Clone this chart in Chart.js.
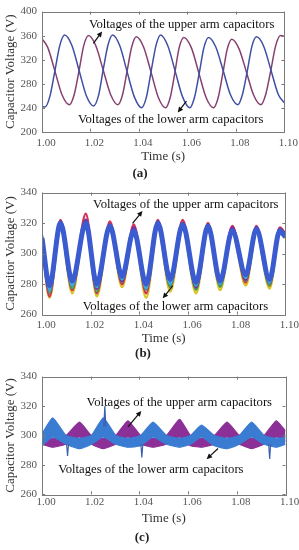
<!DOCTYPE html>
<html>
<head>
<meta charset="utf-8">
<script src="https://cdn.jsdelivr.net/npm/chart.js@4.4.0/dist/chart.umd.min.js"></script>
<style>
  body { margin: 0; background: #fff; }
  #wrap { position: relative; width: 299px; height: 550px; overflow: hidden; }
  canvas { position: absolute; left: 0; }
  .cap { position: absolute; font: bold 13px "Liberation Serif", serif; color: #222; transform: translate(-50%, -50%); }
</style>
</head>
<body>
<div id="wrap">
  <canvas id="chartA" width="299" height="180" style="top:0px"></canvas>
  <canvas id="chartB" width="299" height="185" style="top:180px"></canvas>
  <canvas id="chartC" width="299" height="185" style="top:365px"></canvas>
  <div class="cap" style="left:140px;top:173px">(a)</div>
  <div class="cap" style="left:143px;top:353px">(b)</div>
  <div class="cap" style="left:142px;top:537px">(c)</div>
</div>
<script>
// tick labels
const xTickVals = [1.00, 1.02, 1.04, 1.06, 1.08, 1.10]
const aTickVals = [200, 240, 280, 320, 360, 400]
const bTickVals = [260, 280, 300, 320, 340]

// (a) two arm capacitor voltages
const aBlueTime = [1.0000, 1.0012, 1.0032, 1.0053, 1.0073, 1.0093, 1.0123, 1.0153, 1.0183, 1.0213, 1.0233, 1.0252, 1.0272, 1.0291,
    1.0321, 1.0351, 1.0381, 1.0411, 1.0431, 1.0450, 1.0470, 1.0489, 1.0519, 1.0550, 1.0580, 1.0610, 1.0629, 1.0649, 1.0668, 1.0687,
    1.0717, 1.0748, 1.0778, 1.0808, 1.0827, 1.0847, 1.0866, 1.0885, 1.0915, 1.0945, 1.0975, 1.1000]
const aBlueVolt = [242, 241, 258, 301, 343, 361, 344, 302, 260, 243, 260, 302, 344, 361,
    343, 300, 258, 240, 258, 300, 343, 361, 343, 300, 258, 240, 257, 298, 340, 357,
    341, 301, 261, 245, 262, 301, 342, 358, 342, 302, 262, 248]
const aPurpleTime = [1.0000, 1.0024, 1.0054, 1.0083, 1.0113, 1.0133, 1.0153, 1.0172, 1.0192, 1.0222, 1.0253, 1.0283, 1.0313, 1.0332,
    1.0351, 1.0370, 1.0389, 1.0419, 1.0450, 1.0480, 1.0510, 1.0529, 1.0548, 1.0566, 1.0585, 1.0616, 1.0647, 1.0677, 1.0708, 1.0727,
    1.0746, 1.0764, 1.0783, 1.0813, 1.0843, 1.0873, 1.0903, 1.0923, 1.0944, 1.0964, 1.0984, 1.1000]
const aPurpleVolt = [355, 340, 300, 261, 245, 262, 302, 343, 360, 343, 302, 262, 245, 261,
    301, 341, 358, 341, 299, 257, 240, 257, 298, 340, 357, 340, 298, 257, 240, 257,
    297, 337, 354, 338, 300, 261, 245, 262, 302, 343, 360, 359]

// (b) many capacitors, one band
const bTime = [1.0000, 1.0031, 1.0076, 1.0124, 1.0180, 1.0225, 1.0279, 1.0329, 1.0377, 1.0428, 1.0476,
    1.0527, 1.0578, 1.0633, 1.0682, 1.0732, 1.0782, 1.0837, 1.0881, 1.0935, 1.0977, 1.1000]
const bBlue = [310, 279, 320, 282, 320, 280, 318, 285, 315, 280, 320, 283, 319, 281, 318, 282, 315, 286, 316, 283, 315, 311]
const bPurple = [311, 276, 321, 279, 322, 277, 319, 282, 317, 277, 321, 280, 320, 278, 319, 280, 317, 283, 317, 281, 316, 312]
const bRed = [309, 272, 322, 276, 326, 274, 321, 280, 319, 274, 322, 278, 322, 277, 320, 279, 318, 281, 318, 279, 317, 313]
const bYellow = [308, 271, 318, 274, 321, 272, 318, 278, 315, 271, 318, 275, 317, 274, 316, 276, 314, 279, 314, 277, 314, 310]
const bCyan = [312, 276, 317, 279, 318, 278, 316, 283, 313, 277, 318, 280, 317, 279, 316, 280, 314, 284, 314, 281, 313, 311]
const bGreen = [310, 274, 319, 277, 320, 275, 317, 281, 316, 276, 319, 278, 318, 276, 317, 278, 315, 282, 315, 279, 314, 311]

// (c) upper / lower envelopes of each group
const cTime = [1.0000, 1.0044, 1.0099, 1.0154, 1.0203, 1.0252, 1.0303, 1.0353, 1.0405, 1.0456, 1.0511,
    1.0565, 1.0610, 1.0655, 1.0708, 1.0760, 1.0810, 1.0861, 1.0912, 1.0962, 1.1000]
const cBlueHi = [301, 312, 300, 298, 300, 312, 300, 298, 300, 309, 300, 298, 300, 307, 300, 298, 300, 309, 300, 298, 299]
const cBlueLo = [293, 299, 294, 291, 294, 299, 294, 292, 293, 299, 294, 292, 294, 299, 293, 291, 294, 299, 294, 292, 294]
const cPurpleHi = [299, 298, 300, 309, 300, 298, 300, 310, 300, 298, 300, 311, 300, 298, 300, 309, 300, 298, 300, 310, 303]
const cPurpleLo = [294, 292, 294, 299, 294, 291, 294, 299, 294, 292, 294, 299, 293, 292, 294, 299, 294, 291, 294, 299, 296]
const cSpikeTime = [1.0101, 1.0105, 1.0109, 1.0110, 1.0254, 1.0258, 1.0262, 1.0263, 1.0406, 1.0410, 1.0414, 1.0415, 1.0931, 1.0935, 1.0939]
const cSpikeVolt = [294, 286, 294, null, 306, 320, 306, null, 294, 285, 294, null, 294, 284, 294]

const upperText = 'Voltages of the upper arm capacitors'
const lowerText = 'Voltages of the lower arm capacitors'

Chart.defaults.font.family = '"Liberation Serif", "Times New Roman", serif'

function pts(xs, ys) {
    return xs.map((x, i) => ({ x: x, y: ys[i] }))
}

function line(xs, ys, color, width, extra) {
    return Object.assign({
        data: pts(xs, ys),
        borderColor: color,
        borderWidth: width,
        pointRadius: 0,
        fill: false
    }, extra || {})
}

// box round the plot with inward ticks, MATLAB style
const framePlugin = {
    id: 'frame',
    afterDraw(chart) {
        const ctx = chart.ctx
        const a = chart.chartArea
        const x = chart.scales.x, y = chart.scales.y
        ctx.save()
        ctx.strokeStyle = '#7a7a7a'
        ctx.lineWidth = 1
        ctx.strokeRect(Math.round(a.left) + 0.5, Math.round(a.top) + 0.5,
            Math.round(a.right - a.left), Math.round(a.bottom - a.top))
        ctx.beginPath()
        xTickVals.forEach(v => {
            const px = Math.round(x.getPixelForValue(v)) + 0.5
            ctx.moveTo(px, a.bottom); ctx.lineTo(px, a.bottom - 3)
            ctx.moveTo(px, a.top); ctx.lineTo(px, a.top + 3)
        })
        y.ticks.forEach(t => {
            const py = Math.round(y.getPixelForValue(t.value)) + 0.5
            ctx.moveTo(a.left, py); ctx.lineTo(a.left + 3, py)
            ctx.moveTo(a.right, py); ctx.lineTo(a.right - 3, py)
        })
        ctx.stroke()
        ctx.restore()
    }
}

function drawArrow(ctx, x1, y1, x2, y2) {
    const ang = Math.atan2(y2 - y1, x2 - x1)
    const L = 5.5, W = 2.6
    ctx.beginPath()
    ctx.moveTo(x1, y1)
    ctx.lineTo(x2 - L * 0.6 * Math.cos(ang), y2 - L * 0.6 * Math.sin(ang))
    ctx.stroke()
    ctx.beginPath()
    ctx.moveTo(x2, y2)
    ctx.lineTo(x2 - L * Math.cos(ang) + W * Math.sin(ang), y2 - L * Math.sin(ang) - W * Math.cos(ang))
    ctx.lineTo(x2 - L * Math.cos(ang) - W * Math.sin(ang), y2 - L * Math.sin(ang) + W * Math.cos(ang))
    ctx.closePath()
    ctx.fill()
}

const notesPlugin = {
    id: 'notes',
    afterDraw(chart, args, opts) {
        const ctx = chart.ctx
        const x = chart.scales.x, y = chart.scales.y
        ctx.save()
        ctx.fillStyle = '#111'
        ctx.strokeStyle = '#111'
        ctx.lineWidth = 1.2
        ctx.font = '12.7px "Liberation Serif", serif'
        ctx.textAlign = 'center'
        ctx.textBaseline = 'middle'
        opts.items.forEach(n => {
            ctx.fillText(n.text, x.getPixelForValue(n.x), y.getPixelForValue(n.y))
        })
        opts.arrows.forEach(r => {
            drawArrow(ctx, x.getPixelForValue(r.from[0]), y.getPixelForValue(r.from[1]),
                x.getPixelForValue(r.to[0]), y.getPixelForValue(r.to[1]))
        })
        ctx.restore()
    }
}

function makeChart(id, cfg) {
    return new Chart(document.getElementById(id), {
        type: 'line',
        data: { datasets: cfg.datasets },
        options: {
            responsive: false,
            animation: false,
            devicePixelRatio: 1,
            layout: { padding: { left: 0, right: cfg.padRight, top: cfg.padTop, bottom: 0 } },
            elements: { line: { cubicInterpolationMode: 'monotone' } },
            plugins: {
                legend: { display: false },
                tooltip: { enabled: false },
                notes: { items: cfg.notes, arrows: cfg.arrows }
            },
            scales: {
                x: {
                    type: 'linear',
                    min: 1.0,
                    max: 1.1,
                    grid: { display: false, drawTicks: false },
                    border: { display: false },
                    afterBuildTicks: s => { s.ticks = xTickVals.map(v => ({ value: v })) },
                    afterFit: s => { s.height = cfg.xHeight },
                    ticks: {
                        color: '#555',
                        font: { size: 11 },
                        padding: cfg.xPad,
                        labelOffset: 4,
                        maxRotation: 0,
                        autoSkip: false,
                        callback: v => v.toFixed(2)
                    },
                    title: {
                        display: true,
                        text: 'Time (s)',
                        color: '#333',
                        font: { size: 13 },
                        padding: { top: 0, bottom: cfg.titlePad }
                    }
                },
                y: {
                    min: cfg.yTicks[0],
                    max: cfg.yTicks[cfg.yTicks.length - 1],
                    grid: { display: false, drawTicks: false },
                    border: { display: false },
                    afterBuildTicks: s => { s.ticks = cfg.yTicks.map(v => ({ value: v })) },
                    afterFit: s => { s.width = 42 },
                    ticks: { color: '#555', font: { size: 11 }, padding: 5 },
                    title: {
                        display: true,
                        text: 'Capacitor Voltage (V)',
                        color: '#333',
                        font: { size: 13 },
                        padding: { top: 3, bottom: 0 }
                    }
                }
            }
        },
        plugins: [framePlugin, notesPlugin]
    })
}

makeChart('chartA', {
    padTop: 8, padRight: 11.7, xHeight: 48.3, xPad: 5, titlePad: 16,
    yTicks: aTickVals,
    datasets: [
        line(aBlueTime, aBlueVolt, '#3f4fa3', 1.5),
        line(aPurpleTime, aPurpleVolt, '#86406f', 1.5)
    ],
    notes: [
        { text: upperText, x: 1.0576, y: 379 },
        { text: lowerText, x: 1.0531, y: 220.5 }
    ],
    arrows: [
        { from: [1.0212, 347], to: [1.0248, 367] },
        { from: [1.0596, 251], to: [1.0560, 232] }
    ]
})

makeChart('chartB', {
    padTop: 12.5, padRight: 13, xHeight: 50.5, xPad: 4, titlePad: 19,
    yTicks: bTickVals,
    datasets: [
        line(bTime, bBlue, '#3b5bd0', 5, { tension: 0.3 }),
        line(bTime, bCyan, '#35b2dc', 2.5, { tension: 0.3 }),
        line(bTime, bPurple, '#7a2f9e', 3, { tension: 0.3 }),
        line(bTime, bGreen, '#3fa35a', 2, { tension: 0.3 }),
        line(bTime, bRed, '#cf3558', 2.5, { tension: 0.3 }),
        line(bTime, bYellow, '#dcc21e', 2.5, { tension: 0.3 })
    ],
    notes: [
        { text: upperText, x: 1.0591, y: 331.8 },
        { text: lowerText, x: 1.0548, y: 264.9 }
    ],
    arrows: [
        { from: [1.0372, 319.8], to: [1.0413, 327.9] },
        { from: [1.0537, 278.7], to: [1.0496, 270.6] }
    ]
})

const cLine = { cubicInterpolationMode: 'default', tension: 0.15 }
makeChart('chartC', {
    padTop: 7, padRight: 13.5, xHeight: 55.7, xPad: 1.5, titlePad: 24,
    yTicks: bTickVals,
    datasets: [
        line(cSpikeTime, cSpikeVolt, '#3a5fb0', 1.2, { cubicInterpolationMode: 'default', tension: 0, spanGaps: false }),
        line(cTime, cBlueLo, '#3a7cd2', 1.2, cLine),
        line(cTime, cBlueHi, '#3a7cd2', 1.2, Object.assign({ fill: { target: 1 }, backgroundColor: '#3a7cd2' }, cLine)),
        line(cTime, cPurpleLo, '#8c2f96', 1.2, cLine),
        line(cTime, cPurpleHi, '#8c2f96', 1.2, Object.assign({ fill: { target: 3 }, backgroundColor: '#8c2f96' }, cLine))
    ],
    notes: [
        { text: upperText, x: 1.0564, y: 322.3 },
        { text: lowerText, x: 1.0447, y: 276.6 }
    ],
    arrows: [
        { from: [1.0353, 305.8], to: [1.0408, 316.7] },
        { from: [1.0723, 291.1], to: [1.0676, 283.9] }
    ]
})
</script>
</body>
</html>
